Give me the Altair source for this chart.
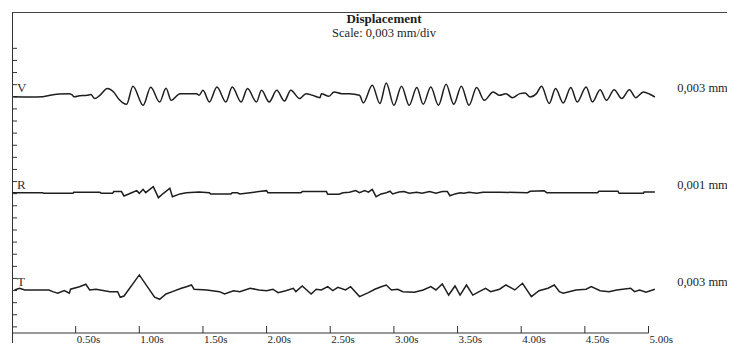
import altair as alt
import pandas as pd

# ---- data (time in s, displacement in divisions from trace baseline) ----
TRACES = ["V", "R", "T"]
BASES = [20, 12, 4]
SCALE_LABELS = ["0,003 mm", "0,001 mm", "0,003 mm"]

V_T = [0.01, 0.14, 0.24, 0.29, 0.37, 0.45, 0.47, 0.49, 0.53, 0.59, 0.62, 0.65, 0.69, 0.75, 0.80,
       0.84, 0.90, 0.95, 1.03, 1.09, 1.16, 1.21, 1.25, 1.32, 1.45, 1.47, 1.50, 1.55, 1.61, 1.68,
       1.73, 1.80, 1.85, 1.92, 1.96, 2.02, 2.08, 2.14, 2.19, 2.26, 2.31, 2.36, 2.42, 2.43, 2.49,
       2.53, 2.59, 2.65, 2.73, 2.76, 2.83, 2.89, 2.94, 3.00, 3.06, 3.12, 3.18, 3.23, 3.29, 3.35,
       3.41, 3.47, 3.53, 3.59, 3.65, 3.71, 3.78, 3.83, 3.88, 3.93, 3.99, 4.03, 4.07, 4.12, 4.16,
       4.22, 4.27, 4.33, 4.39, 4.44, 4.51, 4.56, 4.62, 4.67, 4.73, 4.79, 4.85, 4.90, 4.96, 5.01,
       5.05]
V_D = [0, -0.02, 0, 0.10, 0.22, 0.26, 0.17, 0, 0.08, 0.12, 0.18, -0.15, 0.12, 0.68, 0.37,
       -0.21, -0.62, 0.87, -0.70, 0.78, -0.43, 0.70, -0.29, 0.26, 0.26, 0.12, 0.54, -0.43, 0.81, -0.43,
       0.81, -0.43, 0.68, -0.43, 0.54, -0.43, 0.54, -0.35, 0.54, -0.15, 0.26, 0.12, -0.07, 0.26, 0.04,
       0.40, 0.26, 0.26, 0.12, -0.51, 0.95, -0.56, 1.14, -0.70, 0.87, -0.70, 0.76, -0.62, 0.81, -0.70,
       1.03, -0.62, 0.87, -0.70, 0.76, -0.29, 0.40, 0.12, 0.26, -0.07, 0.26, 0.31, -0.02, 0.26, 0.87,
       -0.56, 0.68, -0.51, 0.76, -0.43, 0.81, -0.43, 0.59, -0.29, 0.59, -0.15, 0.59, -0.07, 0.40, 0.21,
       -0.02]

R_T = [0.00, 0.24, 0.25, 0.48, 0.485, 0.69, 0.70, 0.79, 0.80, 0.86, 0.88, 0.94, 0.98, 1.00, 1.03,
       1.05, 1.11, 1.15, 1.19, 1.24, 1.26, 1.32, 1.37, 1.47, 1.55, 1.56, 1.72, 1.73, 1.77, 1.79,
       1.87, 1.94, 2.00, 2.01, 2.27, 2.28, 2.47, 2.48, 2.57, 2.60, 2.65, 2.70, 2.73, 2.77, 2.80,
       2.83, 2.86, 2.90, 2.94, 2.97, 2.99, 3.04, 3.08, 3.12, 3.18, 3.22, 3.28, 3.33, 3.38, 3.42,
       3.44, 3.48, 3.52, 3.55, 3.59, 3.65, 3.70, 3.83, 4.05, 4.07, 4.18, 4.20, 4.60, 4.61, 4.76,
       4.77, 4.96, 4.965, 5.05]
R_D = [0.08, 0.08, 0.03, 0.03, 0.12, 0.12, 0.03, 0.03, 0.17, 0.17, -0.19, 0.08, 0.25, 0.03, 0.36,
       0.08, 0.58, -0.33, 0.03, 0.45, -0.25, -0.02, 0.08, 0.14, 0.08, -0.02, -0.02, 0.08, 0.08, -0.02,
       0.08, 0.17, 0.25, 0.08, 0.08, 0.17, 0.17, -0.05, -0.05, 0.08, 0.12, 0.25, 0.08, 0.25, 0.12,
       0.36, -0.25, -0.02, 0.08, 0.20, -0.02, 0.14, 0.17, 0.03, 0.12, 0.03, 0.17, 0.03, 0.17, 0.17,
       -0.17, -0.02, 0.08, 0.03, 0.12, 0.03, 0.12, 0.12, 0.08, 0.20, 0.25, 0.08, 0.08, 0.20, 0.20,
       0.03, 0.03, 0.14, 0.14]

T_T = [0.02, 0.06, 0.10, 0.29, 0.32, 0.36, 0.41, 0.45, 0.46, 0.53, 0.58, 0.61, 0.66, 0.77, 0.83,
       0.85, 0.88, 1.00, 1.12, 1.16, 1.21, 1.26, 1.33, 1.37, 1.41, 1.43, 1.53, 1.63, 1.67, 1.74,
       1.79, 1.87, 1.94, 2.00, 2.05, 2.09, 2.15, 2.21, 2.23, 2.28, 2.35, 2.39, 2.43, 2.48, 2.52,
       2.56, 2.62, 2.66, 2.73, 2.80, 2.85, 2.90, 2.94, 2.98, 3.03, 3.07, 3.16, 3.23, 3.29, 3.33,
       3.38, 3.43, 3.48, 3.52, 3.57, 3.62, 3.67, 3.72, 3.76, 3.83, 3.88, 3.95, 4.01, 4.08, 4.14,
       4.21, 4.26, 4.30, 4.33, 4.43, 4.51, 4.55, 4.62, 4.69, 4.75, 4.86, 4.89, 4.93, 4.98, 5.05]
T_D = [0.05, 0.19, 0.05, 0.05, -0.09, -0.22, -0.01, -0.22, 0.11, 0.32, 0.52, 0.05, 0.11, -0.09, -0.09,
       -0.55, -0.45, 1.29, -0.55, -0.72, -0.28, -0.09, 0.19, 0.32, 0.46, 0.11, 0.05, -0.09, -0.28, -0.01,
       -0.09, 0.19, 0.05, -0.01, 0.11, -0.17, -0.01, 0.19, -0.09, 0.38, -0.28, 0.11, 0.05, 0.32, -0.01,
       0.27, 0.05, 0.32, -0.50, -0.17, 0.11, 0.32, 0.46, 0.05, 0.11, -0.09, -0.14, 0.05, 0.32, 0.05,
       0.55, -0.37, 0.38, -0.37, 0.46, -0.37, -0.09, 0.19, -0.09, 0.11, 0.46, 0.05, 0.60, -0.50, -0.01,
       0.19, 0.46, -0.09, -0.22, 0.05, 0.11, 0.32, -0.01, -0.09, 0.05, 0.19, -0.09, 0.05, -0.14, 0.11]

LEFT_TICKS = list(range(1, 25))
TIME_TICKS = [0.5, 1.0, 1.5, 2.0, 2.5, 3.0, 3.5, 4.0, 4.5, 5.0]
TIME_LABELS = ["0,50s", "1,00s", "1,50s", "2,00s", "2,50s", "3,00s", "3,50s", "4,00s", "4,50s", "5,00s"]
TITLE = "Displacement"
SUBTITLE = "Scale: 0,003 mm/div"

# ---- build tables ----
def trace_df(name, base, ts, ds):
    return pd.DataFrame({"trace": name, "t": ts, "y": [base + d for d in ds], "i": range(len(ts))})

v_df = trace_df("V", BASES[0], V_T, V_D)
rt_df = pd.concat([trace_df("R", BASES[1], R_T, R_D), trace_df("T", BASES[2], T_T, T_D)])
labels_df = pd.DataFrame({"name": TRACES, "base": BASES, "scale": SCALE_LABELS, "tx": [5.225] * 3})
lt_df = pd.DataFrame({"v": LEFT_TICKS})
tt_df = pd.DataFrame({"t": TIME_TICKS, "lab": TIME_LABELS})
one = pd.DataFrame({"a": [0.0], "b": [5.0]})

# the page must not overflow the 735x351 window: svg = 719 x 335
W, H = 715, 327
AX = H - 6          # time-axis line, lifted a little so its labels stay inside the page
PX_PER_S = 127.3
FONT = "Liberation Serif"
INK = "#1e1e1e"
xs = alt.Scale(domain=[0, W / PX_PER_S], nice=False, zero=False)
ys = alt.Scale(domain=[0, 27], nice=False, zero=False)

v_line = alt.Chart(v_df).mark_line(color=INK, strokeWidth=1.5, interpolate="monotone").encode(
    x=alt.X("t:Q", scale=xs, axis=None),
    y=alt.Y("y:Q", scale=ys, axis=None),
    order="i:Q",
)
rt_lines = alt.Chart(rt_df).mark_line(color=INK, strokeWidth=1.5, interpolate="linear").encode(
    x=alt.X("t:Q", scale=xs, axis=None),
    y=alt.Y("y:Q", scale=ys, axis=None),
    detail="trace:N",
    order="i:Q",
)

left_line = alt.Chart(one).mark_rule(color="#333333", strokeWidth=1).encode(
    x=alt.value(0.5), y=alt.value(0), y2=alt.value(H + 20))
top_line = alt.Chart(one).mark_rule(color="#444444", strokeWidth=1.2).encode(
    y=alt.value(0.5), x=alt.value(0), x2=alt.value(W + 10))
left_ticks = alt.Chart(lt_df).mark_rule(color="#333333", strokeWidth=1).encode(
    y=alt.Y("v:Q", scale=ys, axis=None), x=alt.value(0), x2=alt.value(5))

bottom_line = alt.Chart(one).mark_rule(color="#333333", strokeWidth=1).encode(
    x=alt.X("a:Q", scale=xs, axis=None), x2="b:Q", y=alt.value(AX))
bottom_ticks = alt.Chart(tt_df).mark_rule(color="#333333", strokeWidth=1).encode(
    x=alt.X("t:Q", scale=xs, axis=None), y=alt.value(AX - 7), y2=alt.value(AX))
bottom_labels = alt.Chart(tt_df).mark_text(
    align="left", baseline="alphabetic", dx=1, font=FONT, fontSize=11, color=INK).encode(
    x=alt.X("t:Q", scale=xs, axis=None), y=alt.value(H + 3.5), text="lab:N")

trace_names = alt.Chart(labels_df).mark_text(
    align="left", baseline="alphabetic", dy=-4.5, font=FONT, fontSize=13, color="#3a3030").encode(
    x=alt.value(5), y=alt.Y("base:Q", scale=ys, axis=None), text="name:N")
scale_labels = alt.Chart(labels_df).mark_text(
    align="left", baseline="alphabetic", dy=-5, font=FONT, fontSize=12.5, color=INK).encode(
    x=alt.X("tx:Q", scale=xs, axis=None), y=alt.Y("base:Q", scale=ys, axis=None), text="scale:N")

title = alt.Chart(one).mark_text(
    align="center", baseline="alphabetic", font=FONT, fontSize=13, fontWeight="bold", color=INK).encode(
    x=alt.value(372), y=alt.value(11), text=alt.value(TITLE))
subtitle = alt.Chart(one).mark_text(
    align="center", baseline="alphabetic", font=FONT, fontSize=12.5, color=INK).encode(
    x=alt.value(372), y=alt.value(24.5), text=alt.value(SUBTITLE))

chart = alt.layer(
    top_line, left_line, left_ticks, bottom_line, bottom_ticks, bottom_labels,
    v_line, rt_lines, trace_names, scale_labels, title, subtitle,
).properties(
    width=W, height=H,
    autosize=alt.AutoSizeParams(type="none"),
    padding={"left": 4, "top": 4, "right": 0, "bottom": 4},
    background="white",
).configure_view(stroke=None)

chart.save("out.html", embed_options={"renderer": "svg", "actions": False})
